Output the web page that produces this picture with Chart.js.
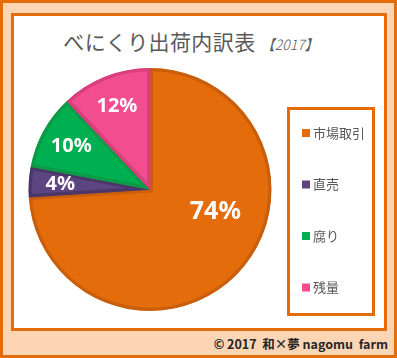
<!DOCTYPE html>
<html>
<head>
<meta charset="utf-8">
<script src="https://cdn.jsdelivr.net/npm/chart.js@4.4.0/dist/chart.umd.min.js"></script>
<style>
  html, body { margin: 0; padding: 0; }
  body { width: 397px; height: 358px; position: relative; overflow: hidden; background: #fff; }
  #outer { position: absolute; left: 0; top: 0; width: 391px; height: 352px; border: 3px solid #e46c0a; background: #fcd5b5; }
  #panel { position: absolute; left: 11px; top: 13px; width: 370px; height: 312px; border: 3px solid #e46c0a; background: #fff; }
  #legendBox { position: absolute; left: 287px; top: 107px; width: 82px; height: 203px; border: 3px solid #e46c0a; }
  #title { position: absolute; left: 0; top: 27px; width: 382px; text-align: center; color: #595959;
    font-family: "Noto Sans CJK JP", sans-serif; font-size: 21px; line-height: 28px; white-space: nowrap; letter-spacing: 0.4px; }
  #title span { font-size: 14px; font-style: italic; font-weight: 300; letter-spacing: 0; }
  #footer { position: absolute; right: 9px; top: 335px; color: #262626; font-family: "Noto Sans CJK JP", sans-serif;
    font-weight: bold; font-size: 12.5px; line-height: 18px; white-space: nowrap; }
  #wrap { position: absolute; left: 0; top: 0; width: 397px; height: 358px; }
</style>
</head>
<body>
<div id="outer"></div>
<div id="panel"></div>
<div id="legendBox"></div>
<div id="title">べにくり出荷内訳表 <span>【2017】</span></div>
<div id="footer">© 2017&nbsp; 和×夢 nagomu&nbsp; farm</div>
<div id="wrap"><canvas id="myChart"></canvas></div>
<script>
/* global Chart */

let labels = ["市場取引", "直売", "腐り", "残量"];
let shares = [74, 4, 10, 12];
let fills = ["#e46c0a", "#5c4580", "#00b050", "#f24d8f"];
let edges = ["#c95f0c", "#4a3668", "#0d9a47", "#d83f7c"];

// percent labels inside the slices
const sliceLabels = {
  id: "sliceLabels",
  afterDatasetsDraw(chart) {
    const ctx = chart.ctx;
    const meta = chart.getDatasetMeta(0);
    meta.data.forEach(function (arc, i) {
      const p = arc.getProps(["x", "y", "startAngle", "endAngle", "outerRadius"], true);
      const span = p.endAngle - p.startAngle;
      const big = span > Math.PI;
      const a = p.startAngle + span * (big ? 0.41 : 0.5);
      const r = p.outerRadius * (big ? 0.57 : 0.74);
      ctx.save();
      ctx.fillStyle = "#fff";
      ctx.font = "bold " + (big ? 25 : 20) + "px 'Noto Sans', sans-serif";
      ctx.textAlign = "center";
      ctx.textBaseline = "middle";
      ctx.fillText(shares[i] + "%", p.x + Math.cos(a) * r, p.y + Math.sin(a) * r);
      ctx.restore();
    });
  },
};

// legend inside the bordered box on the right
const boxLegend = {
  id: "boxLegend",
  afterDraw(chart) {
    const ctx = chart.ctx;
    ctx.save();
    ctx.font = "13px 'Noto Sans CJK JP', sans-serif";
    ctx.textBaseline = "middle";
    labels.forEach(function (lab, i) {
      const y = 133 + i * 51.5;
      ctx.fillStyle = fills[i];
      ctx.fillRect(302, y - 4, 8, 8);
      ctx.fillStyle = "#595959";
      ctx.fillText(lab, 313, y);
    });
    ctx.restore();
  },
};

const ctx = document.getElementById("myChart");
const myChart = new Chart(ctx, {
  type: "pie",
  data: {
    labels: labels,
    datasets: [
      {
        data: shares,
        backgroundColor: fills,
        borderColor: edges,
        borderWidth: 3,
        borderAlign: "inner",
      },
    ],
  },
  options: {
    responsive: true,
    maintainAspectRatio: false,
    animation: false,
    layout: {
      padding: { left: 28, top: 68, right: 125, bottom: 47 },
    },
    plugins: {
      legend: { display: false },
      tooltip: { enabled: false },
    },
  },
  plugins: [sliceLabels, boxLegend],
});
</script>
</body>
</html>
